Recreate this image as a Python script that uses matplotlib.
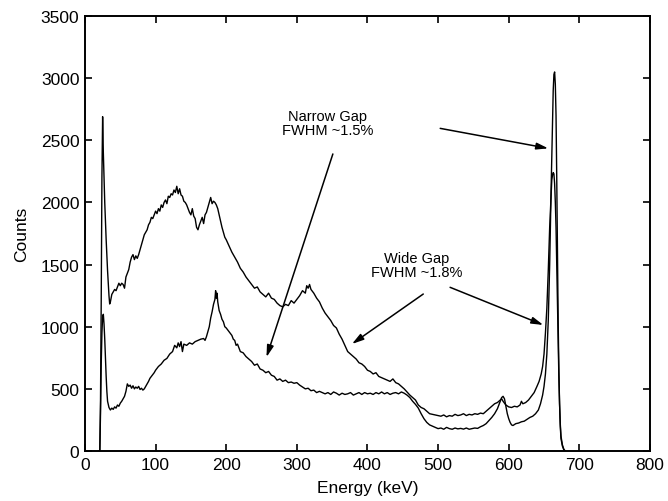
import matplotlib
matplotlib.use("Agg")
import matplotlib.pyplot as plt

plt.rcParams['font.family'] = ['Liberation Sans', 'DejaVu Sans']

# Narrow gap spectrum (lower continuum, tall photopeak)
narrow_e = [20, 21, 22, 23, 24, 25, 26, 27, 28, 29, 30, 31, 32, 34, 36, 38, 40, 42, 44, 46, 48, 50,
            52, 54, 56, 58, 60, 62, 64, 66, 68, 70, 72, 74, 76, 78, 80, 82, 84, 86, 88, 90, 92, 94,
            96, 98, 100, 104, 108, 112, 116, 120, 124, 127, 130, 132, 134, 136, 138, 140, 144, 148,
            152, 156, 160, 164, 168, 170, 172, 174, 176, 178, 180, 182, 184, 185, 186, 187, 188, 190,
            192, 194, 196, 198, 200, 204, 208, 210, 212, 214, 216, 220, 224, 228, 232, 236, 240, 244,
            248, 252, 256, 260, 264, 268, 272, 276, 280, 284, 288, 292, 296, 300, 304, 308, 312, 316,
            320, 324, 328, 332, 336, 340, 344, 348, 352, 356, 360, 364, 368, 372, 376, 380, 384, 388,
            392, 396, 400, 404, 408, 412, 416, 420, 424, 428, 432, 436, 440, 444, 448, 452, 456, 460,
            464, 468, 472, 476, 480, 484, 488, 492, 496, 500, 504, 508, 512, 516, 520, 524, 528, 532,
            536, 540, 544, 548, 552, 556, 560, 564, 568, 572, 576, 580, 584, 588, 590, 592, 594, 596,
            598, 600, 602, 604, 606, 610, 614, 618, 622, 626, 630, 634, 638, 642, 645, 648, 650, 652,
            654, 656, 658, 660, 662, 663, 664, 665, 666, 667, 668, 669, 670, 671, 672, 673, 674, 676,
            678, 680]
narrow_c = [0, 0, 300, 700, 950, 1080, 1100, 1020, 900, 750, 600, 480, 400, 350, 330, 345, 335, 355, 345, 370, 360, 385,
            400, 420, 440, 480, 540, 520, 530, 505, 525, 500, 515, 505, 520, 495, 505, 490, 500, 520, 540, 560, 585, 600,
            615, 630, 650, 680, 700, 730, 745, 780, 800, 850, 830, 870, 840, 880, 800, 860, 850, 870,
            860, 880, 890, 900, 905, 890, 920, 960, 1000, 1070, 1120, 1180, 1220, 1290, 1230, 1270, 1200, 1130,
            1100, 1060, 1040, 1000, 990, 960, 930, 900, 890, 850, 860, 800, 790, 760, 740, 720, 690, 700,
            660, 650, 630, 640, 610, 600, 570, 580, 560, 570, 550, 555, 545, 550, 530, 515, 500, 505,
            485, 490, 470, 480, 470, 460, 470, 455, 475, 465, 450, 465, 455, 460, 470, 450, 460, 470,
            455, 470, 460, 465, 455, 470, 460, 475, 460, 470, 455, 465, 470, 460, 475, 465, 450, 430,
            400, 375, 345, 300, 260, 230, 210, 200, 190, 180, 185, 175, 190, 180, 175, 185, 178, 182,
            176, 185, 175, 180, 185, 182, 195, 205, 220, 245, 270, 300, 340, 400, 430, 440, 420, 360,
            300, 260, 230, 210, 205, 220, 225, 235, 240, 255, 270, 280, 300, 330, 380, 450, 520, 620,
            780, 1050, 1500, 2100, 2650, 2900, 3030, 3050, 2950, 2700, 2200, 1600, 1050, 650, 380, 200, 100, 40,
            10, 0]

# Wide gap spectrum (upper continuum, lower photopeak)
wide_e = [20, 21, 22, 23, 24, 25, 26, 28, 30, 32, 34, 35, 36, 38, 40, 42, 44, 46, 48, 50, 52, 54, 56,
          58, 60, 62, 64, 66, 68, 70, 72, 74, 76, 78, 80, 82, 84, 86, 88, 90, 92, 94, 96, 98, 100, 102,
          104, 106, 108, 110, 112, 114, 116, 118, 120, 122, 124, 126, 128, 130, 132, 134, 136, 138,
          140, 142, 144, 146, 148, 150, 152, 154, 156, 158, 160, 162, 164, 166, 168, 170, 172, 174,
          176, 178, 180, 182, 184, 186, 188, 190, 192, 194, 196, 198, 200, 204, 208, 212, 216, 220,
          224, 228, 232, 236, 240, 244, 248, 252, 256, 260, 264, 268, 272, 276, 280, 284, 288, 292,
          296, 300, 304, 308, 312, 314, 316, 318, 320, 324, 328, 332, 336, 340, 344, 348, 352, 356,
          360, 364, 368, 372, 376, 380, 384, 388, 392, 396, 400, 404, 408, 412, 416, 420, 424, 428,
          432, 436, 440, 444, 448, 452, 456, 460, 464, 468, 472, 476, 480, 484, 488, 492, 496, 500,
          504, 508, 512, 516, 520, 524, 528, 532, 536, 540, 544, 548, 552, 556, 560, 564, 568, 572,
          576, 580, 584, 588, 590, 592, 596, 600, 604, 608, 612, 616, 618, 620, 624, 628, 632, 636,
          640, 643, 646, 648, 650, 652, 654, 656, 658, 660, 661, 662, 663, 664, 665, 666, 667, 668,
          669, 670, 671, 672, 673, 674, 676, 678, 680]
wide_c = [0, 0, 400, 1200, 2200, 2690, 2400, 2000, 1700, 1450, 1250, 1183, 1200, 1260, 1280, 1300, 1290, 1320, 1350, 1330, 1350, 1340, 1310,
          1400, 1430, 1460, 1520, 1560, 1580, 1540, 1570, 1550, 1580, 1620, 1660, 1700, 1740, 1760, 1780, 1820, 1840, 1880, 1870, 1900, 1930, 1910,
          1950, 1930, 1980, 1960, 2000, 2020, 1990, 2050, 2040, 2070, 2060, 2100, 2080, 2130, 2070, 2110, 2060, 2050,
          2010, 2000, 1980, 1950, 1920, 1900, 1950, 1890, 1870, 1800, 1780, 1820, 1850, 1880, 1830, 1900, 1920, 1960,
          2000, 2040, 1990, 2010, 2000, 1980, 1950, 1900, 1850, 1800, 1760, 1720, 1700, 1650, 1600, 1560, 1520, 1470,
          1440, 1400, 1370, 1340, 1310, 1320, 1280, 1260, 1240, 1270, 1230, 1220, 1190, 1170, 1160, 1180, 1170, 1210,
          1190, 1220, 1250, 1290, 1270, 1330, 1310, 1340, 1300, 1270, 1230, 1200, 1150, 1110, 1080, 1050, 1010, 990,
          940, 900, 850, 800, 780, 760, 740, 710, 700, 680, 650, 640, 620, 630, 600, 590, 580, 570,
          560, 580, 550, 540, 520, 500, 475, 450, 430, 410, 370, 350, 340, 320, 300, 295, 290, 285,
          280, 290, 275, 285, 280, 295, 285, 290, 300, 285, 295, 290, 300, 295, 305, 300, 320, 340,
          360, 380, 390, 410, 420, 400, 370, 355, 350, 360, 355, 370, 400, 380, 390, 410, 440, 470,
          520, 560, 620, 680, 780, 950, 1150, 1450, 1800, 2050, 2180, 2220, 2240, 2230, 2150, 2000, 1800, 1500,
          1200, 900, 600, 380, 220, 120, 50, 15, 0]

x_ticks = [0, 100, 200, 300, 400, 500, 600, 700, 800]
y_ticks = [0, 500, 1000, 1500, 2000, 2500, 3000, 3500]

fig = plt.figure(figsize=(6.68, 5.02), dpi=100)
ax = fig.add_axes([0.1272, 0.0996, 0.8458, 0.8665])

ax.plot(narrow_e, narrow_c, color='black', lw=1.0)
ax.plot(wide_e, wide_c, color='black', lw=1.0)

ax.set_xlim(0, 800)
ax.set_ylim(0, 3500)
ax.set_xticks(x_ticks)
ax.set_yticks(y_ticks)
ax.tick_params(direction='in', length=5, width=1.2, top=True, right=True,
               labelsize=12.5, pad=4)
for s in ax.spines.values():
    s.set_linewidth(1.4)

ax.set_xlabel('Energy (keV)', fontsize=12.5, labelpad=6)
ax.set_ylabel('Counts', fontsize=12.5, labelpad=8)

ap = dict(arrowstyle='-|>,head_length=0.7,head_width=0.2', color='black', lw=1.1,
          shrinkA=0, shrinkB=0)

ax.text(344, 2640, 'Narrow Gap\nFWHM ~1.5%', ha='center', va='center', fontsize=10.5,
        linespacing=1.0)
ax.annotate('', xy=(257, 755), xytext=(351, 2390), arrowprops=ap)
ax.annotate('', xy=(656, 2435), xytext=(503, 2596), arrowprops=ap)

ax.text(470, 1500, 'Wide Gap\nFWHM ~1.8%', ha='center', va='center', fontsize=10.5,
        linespacing=1.0)
ax.annotate('', xy=(378, 861), xytext=(479, 1263), arrowprops=ap)
ax.annotate('', xy=(649, 1014), xytext=(517, 1317), arrowprops=ap)

fig.savefig('out.png', dpi=100)
